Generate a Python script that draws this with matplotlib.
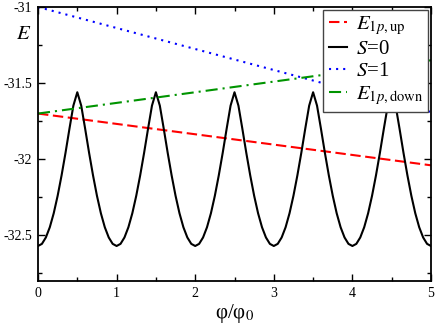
import matplotlib
matplotlib.use('Agg')
import matplotlib.pyplot as plt

plt.rcParams['font.family'] = ['Liberation Serif', 'DejaVu Serif']
plt.rcParams['mathtext.fontset'] = 'stix'
plt.rcParams['axes.unicode_minus'] = False

# S=0 curve sampled every 0.05 in phi/phi0
phi_s0 = [i * 0.05 for i in range(101)]
e_s0 = [
    -32.57, -32.556, -32.514, -32.447, -32.355, -32.24, -32.106, -31.958, -31.8, -31.648,
    -31.56, -31.648, -31.8, -31.958, -32.106, -32.24, -32.355, -32.447, -32.514, -32.556,
    -32.57, -32.556, -32.514, -32.447, -32.355, -32.24, -32.106, -31.958, -31.8, -31.648,
    -31.56, -31.648, -31.8, -31.958, -32.106, -32.24, -32.355, -32.447, -32.514, -32.556,
    -32.57, -32.556, -32.514, -32.447, -32.355, -32.24, -32.106, -31.958, -31.8, -31.648,
    -31.56, -31.648, -31.8, -31.958, -32.106, -32.24, -32.355, -32.447, -32.514, -32.556,
    -32.57, -32.556, -32.514, -32.447, -32.355, -32.24, -32.106, -31.958, -31.8, -31.648,
    -31.56, -31.648, -31.8, -31.958, -32.106, -32.24, -32.355, -32.447, -32.514, -32.556,
    -32.57, -32.556, -32.514, -32.447, -32.355, -32.24, -32.106, -31.958, -31.8, -31.648,
    -31.56, -31.648, -31.8, -31.958, -32.106, -32.24, -32.355, -32.447, -32.514, -32.556,
    -32.57,
]

# straight lines (end points)
phi_ends = [0, 5]
e_up = [-31.70, -32.04]
e_s1 = [-31.00, -31.69]
e_down = [-31.70, -31.35]

fig = plt.figure(figsize=(4.36, 3.26), dpi=100)
ax = fig.add_axes([38 / 436, 1 - 281 / 326, 393 / 436, 274 / 326])

ax.plot(phi_ends, e_up, color='#ff0000', lw=1.5, dashes=(5, 2.2),
        label=r'$E_{\mathit{1p},\mathrm{up}}$')
ax.plot(phi_s0, e_s0, color='black', lw=1.5, label=r'$S$=0')
ax.plot(phi_ends, e_s1, color='#0000ff', lw=1.5, dashes=(1, 2.4),
        label=r'$S$=1')
ax.plot(phi_ends, e_down, color='#009400', lw=1.5, dashes=(5.8, 2.4, 1, 2.4),
        label=r'$E_{\mathit{1p},\mathrm{down}}$')

ax.set_xlim(0, 5)
ax.set_ylim(-32.8, -31)
ax.set_xticks([0, 1, 2, 3, 4, 5])
ax.set_xticks([0.5, 1.5, 2.5, 3.5, 4.5], minor=True)
ax.set_yticks([-32.5, -32, -31.5, -31])
ax.set_yticks([-32.75, -32.25, -31.75, -31.25], minor=True)
ax.set_yticklabels(['-32.5', '-32', '-31.5', '-31'])
ax.tick_params(which='both', direction='in', top=True, right=True, labelsize=10, width=1)
ax.tick_params(which='major', length=5, pad=4)
ax.tick_params(which='minor', length=3)
for sp in ax.spines.values():
    sp.set_linewidth(1.3)

ax.set_xlabel('φ/φ$_0$', fontsize=15, labelpad=2)
ax.text(-0.037, 0.9, r'$E$', transform=ax.transAxes, fontsize=15,
        ha='center', va='center')

leg = ax.legend(loc='upper right', bbox_to_anchor=(0.993, 0.99), borderaxespad=0,
                fontsize=15, handlelength=0.9, handletextpad=0.4, labelspacing=0.12,
                borderpad=0.25, fancybox=False, framealpha=1)
leg.get_frame().set_edgecolor('#444444')
leg.get_frame().set_linewidth(1)

fig.savefig('out.png', dpi=100)
